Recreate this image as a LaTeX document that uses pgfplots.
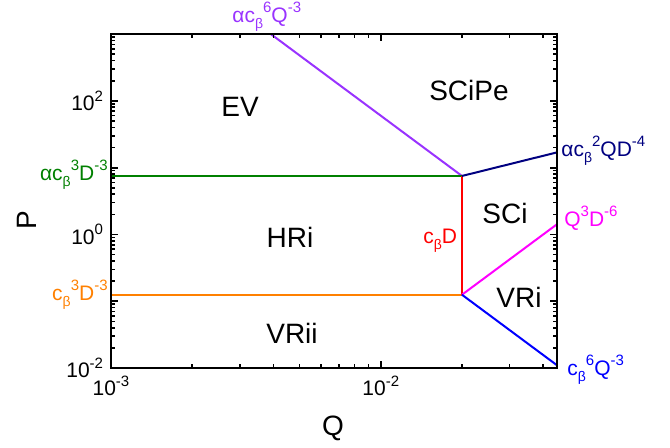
\documentclass[border=0pt]{standalone}
\usepackage{fontspec}
\setmainfont{Liberation Sans}
\usepackage{pgfplots}
\pgfplotsset{compat=1.18}
\definecolor{cpurple}{RGB}{153,51,255}
\definecolor{cnavy}{RGB}{0,0,128}
\definecolor{cgreen}{RGB}{0,128,0}
\definecolor{corange}{RGB}{255,128,0}
\definecolor{cred}{RGB}{255,0,0}
\definecolor{cmagenta}{RGB}{255,0,255}
\definecolor{cblue}{RGB}{0,0,255}
\newcommand{\regfont}{\fontsize{14}{16}\selectfont}
\newcommand{\labfont}{\fontsize{10.5}{12}\selectfont}
\newcommand{\sbs}[1]{\raisebox{-0.55ex}{\fontsize{7}{8}\selectfont #1}}
\newcommand{\sps}[1]{\raisebox{0.85ex}{\fontsize{7.5}{8}\selectfont #1}}
\begin{document}
\begin{tikzpicture}
\begin{axis}[
  at={(0,0)}, anchor=south west,
  scale only axis, width=223pt, height=167pt,
  xmode=log, ymode=log,
  xmin=1e-3, xmax=0.045, ymin=1e-2, ymax=1e3,
  axis on top,
  every axis/.append style={line width=1.3pt},
  xtick={1e-3,1e-2},
  xticklabels={10\sps{-3},10\sps{-2}},
  minor xtick={2e-3,3e-3,4e-3,5e-3,6e-3,7e-3,8e-3,9e-3,2e-2,3e-2,4e-2},
  ytick={1e-2,1e-1,1,10,100,1000},
  yticklabels={10\sps{-2},,10\sps{0},,10\sps{2},},
  minor ytick={2e-2,3e-2,4e-2,5e-2,6e-2,7e-2,8e-2,9e-2,
               2e-1,3e-1,4e-1,5e-1,6e-1,7e-1,8e-1,9e-1,
               2,3,4,5,6,7,8,9,20,30,40,50,60,70,80,90,
               200,300,400,500,600,700,800,900},
  major tick style={draw=black, line width=0.9pt},
  minor tick style={draw=black, line width=0.8pt},
  major tick length=3.5pt, minor tick length=2pt,
  tick align=inside,
  ticklabel style={font=\labfont},
]
\addplot[cpurple, line width=1pt] coordinates {(0.00391,1000) (0.02,7.5)};
\addplot[cgreen, line width=1pt] coordinates {(0.001,7.5) (0.02,7.5)};
\addplot[corange, line width=1pt] coordinates {(0.001,0.125) (0.02,0.125)};
\addplot[cred, line width=1pt] coordinates {(0.02,0.125) (0.02,7.5)};
\addplot[cnavy, line width=1pt] coordinates {(0.02,7.5) (0.045,16.9)};
\addplot[cmagenta, line width=1pt] coordinates {(0.02,0.125) (0.045,1.42)};
\addplot[cblue, line width=1pt] coordinates {(0.02,0.125) (0.045,0.011)};
\end{axis}
\begin{scope}[x=0.5pt,y=-0.5pt,shift={(-55.5pt,184pt)}]
% region labels
\node[font=\regfont] at (240,107) {EV};
\node[font=\regfont] at (469,90) {SCiPe};
\node[font=\regfont] at (290,237) {HRi};
\node[font=\regfont] at (505,213) {SCi};
\node[font=\regfont] at (519,297) {VRi};
\node[font=\regfont] at (292,333) {VRii};
% axis labels
\node[font=\regfont, rotate=90] at (27,220) {P};
\node[font=\regfont] at (333,428) {Q};
% curve labels
\node[font=\labfont, text=cpurple, anchor=base west, inner sep=0pt] at (232,22) {α{}c\sbs{β}\sps{6}Q\sps{-3}};
\node[font=\labfont, text=cnavy, anchor=base west, inner sep=0pt] at (561,156) {α{}c\sbs{β}\sps{2}QD\sps{-4}};
\node[font=\labfont, text=cmagenta, anchor=base west, inner sep=0pt] at (564,226) {Q\sps{3}D\sps{-6}};
\node[font=\labfont, text=cblue, anchor=base west, inner sep=0pt] at (567,375) {c\sbs{β}\sps{6}Q\sps{-3}};
\node[font=\labfont, text=cgreen, anchor=base east, inner sep=0pt] at (108,180) {α{}c\sbs{β}\sps{3}D\sps{-3}};
\node[font=\labfont, text=corange, anchor=base east, inner sep=0pt] at (108,300) {c\sbs{β}\sps{3}D\sps{-3}};
\node[font=\labfont, text=cred, anchor=base west, inner sep=0pt] at (423,243) {c\sbs{β}D};
\pgfresetboundingbox
\useasboundingbox (0,0) rectangle (670,447);
\end{scope}
\end{tikzpicture}
\end{document}
